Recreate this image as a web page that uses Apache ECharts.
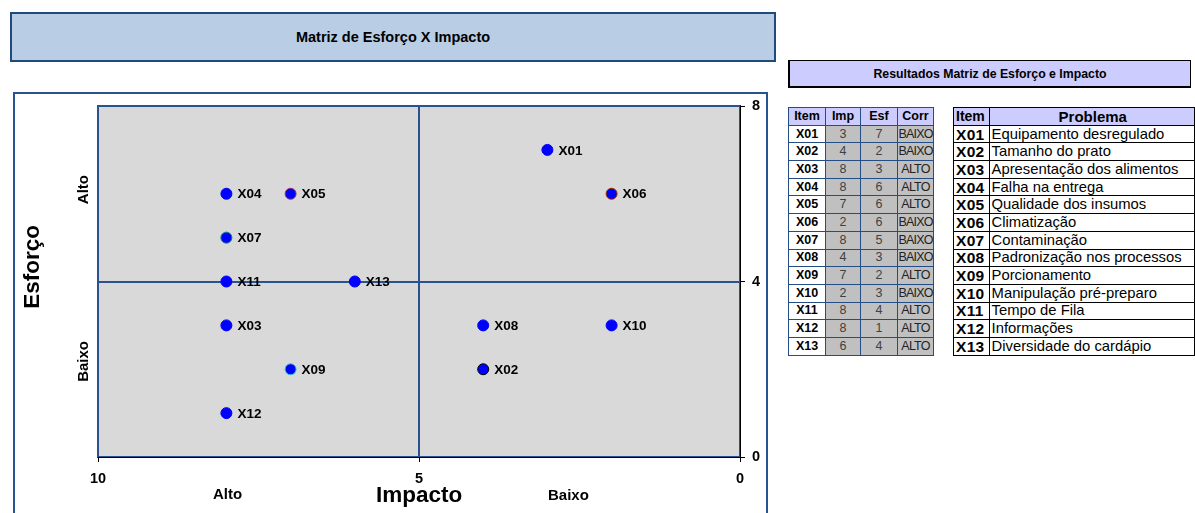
<!DOCTYPE html>
<html>
<head>
<meta charset="utf-8">
<script src="https://cdn.jsdelivr.net/npm/echarts@6/dist/echarts.min.js"></script>
<style>
  html, body { margin: 0; padding: 0; background: #fff; }
  body { width: 1195px; height: 513px; position: relative; overflow: hidden; font-family: "Liberation Sans", Arial, sans-serif; }
  .box { position: absolute; box-sizing: border-box; }
  #titleBox { left: 10px; top: 12px; width: 766px; height: 50px; background: #B9CDE5; border: 2px solid #1F4A7E;
    display: flex; align-items: center; justify-content: center; font-weight: bold; font-size: 14.5px; color: #000; }
  #frame { left: 13px; top: 92px; width: 755px; height: 440px; border: 2px solid #2A5190; }
  #chart { position: absolute; left: 0; top: 0; width: 1195px; height: 513px; }
  #resHead { left: 788px; top: 60px; width: 403px; height: 28px; background: #CCCCFF; border: 1px solid #000;
    border-left-width: 2px; border-bottom-width: 2px;
    display: flex; align-items: center; justify-content: center; font-weight: bold; font-size: 12.3px; }
  table { position: absolute; border-collapse: collapse; table-layout: fixed; }
  table td { padding: 0; height: 16.7px; line-height: 15px; white-space: nowrap; overflow: hidden; }
  #t1 { left: 788px; top: 107px; }
  #t1 td { border: 1px solid #244D85; text-align: center; font-size: 12.5px; color: #404040; background: #C0C0C0; }
  #t1 tr.h td { background: #CCCCFF; font-weight: bold; font-size: 12.5px; color: #000; }
  #t1 td.it { background: #fff; font-weight: bold; font-size: 12.5px; color: #000; }
  #t1 td.corr { font-size: 12.5px; letter-spacing: -0.8px; color: #222; }
  #t2 { left: 953px; top: 107px; }
  #t2 td { border: 1px solid #000; font-size: 14.8px; color: #000; background: #fff; text-align: left; padding-left: 2px; }
  #t2 tr.h td { background: #CCCCFF; font-weight: bold; font-size: 14px; }
  #t2 tr.h td.p { text-align: center; font-size: 15px; }
  #t2 td.it { font-weight: bold; font-size: 15.5px; padding-left: 2px; letter-spacing: 0.3px; }
</style>
</head>
<body>
<div id="titleBox" class="box">Matriz de Esforço X Impacto</div>
<div id="frame" class="box"></div>
<div id="resHead" class="box">Resultados Matriz de Esforço e Impacto</div>
<table id="t1"></table>
<table id="t2"></table>
<div id="chart"></div>
<script>
// Itens avaliados
const items = ['X01','X02','X03','X04','X05','X06','X07','X08','X09','X10','X11','X12','X13'];
// Impacto (eixo X, invertido de 10 a 0)
const impacto = [3, 4, 8, 8, 7, 2, 8, 4, 7, 2, 8, 8, 6];
// Esforço (eixo Y)
const esforco = [7, 2, 3, 6, 6, 6, 5, 3, 2, 3, 4, 1, 4];
// Classificação
const corr = ['BAIXO','BAIXO','ALTO','ALTO','ALTO','BAIXO','BAIXO','BAIXO','ALTO','BAIXO','ALTO','ALTO','ALTO'];
// Descrição dos problemas
const problemas = ['Equipamento desregulado','Tamanho do prato','Apresentação dos alimentos','Falha na entrega',
  'Qualidade dos insumos','Climatização','Contaminação','Padronização nos processos','Porcionamento',
  'Manipulação pré-preparo','Tempo de Fila','Informações','Diversidade do cardápio'];
// Contorno de cada marcador
const contornos = ['#0000FF','#000000','#0000FF','#0000FF','#993366','#993300','#008080','#0000FF','#33CCCC','#0000FF','#0000FF','#0000FF','#0000FF'];
// Marcas dos eixos
const xTicks = [10, 5, 0];
const yTicks = [0, 4, 8];

// Tabela de resultados
const t1 = document.getElementById('t1');
const w1 = [37, 35, 37, 36];
let h1 = '<colgroup>' + w1.map(w => `<col style="width:${w}px">`).join('') + '</colgroup>';
h1 += '<tr class="h"><td>Item</td><td>Imp</td><td>Esf</td><td>Corr</td></tr>';
items.forEach((it, i) => {
  h1 += `<tr><td class="it">${it}</td><td>${impacto[i]}</td><td>${esforco[i]}</td><td class="corr">${corr[i]}</td></tr>`;
});
t1.innerHTML = h1;

// Tabela de problemas
const t2 = document.getElementById('t2');
let h2 = '<colgroup><col style="width:37px"><col style="width:210px"></colgroup>';
h2 += '<tr class="h"><td>Item</td><td class="p">Problema</td></tr>';
items.forEach((it, i) => {
  h2 += `<tr><td class="it">${it}</td><td>${problemas[i]}</td></tr>`;
});
t2.innerHTML = h2;

const chart = echarts.init(document.getElementById('chart'), null, { renderer: 'canvas' });
const FONT = '"Liberation Sans", Arial, sans-serif';
const AXIS_BLUE = '#2A5190';

chart.setOption({
  backgroundColor: 'transparent',
  animation: false,
  grid: {
    left: 98, top: 106, width: 642, height: 351,
    containLabel: false, outerBoundsMode: 'none',
    show: true, backgroundColor: '#D9D9D9', borderColor: AXIS_BLUE, borderWidth: 2
  },
  xAxis: {
    type: 'value', min: 0, max: 10, interval: 5, inverse: true,
    axisLine: { show: true, lineStyle: { color: '#000', width: 1 } },
    axisTick: { show: true, length: 5, lineStyle: { color: '#000' } },
    axisLabel: { fontFamily: FONT, fontWeight: 'bold', fontSize: 14.5, color: '#000', margin: 14,
      formatter: v => xTicks.includes(v) ? String(v) : '' },
    splitLine: { show: true, lineStyle: { color: AXIS_BLUE, width: 2 } }
  },
  yAxis: {
    type: 'value', min: 0, max: 8, interval: 4, position: 'right',
    axisLine: { show: true, onZero: false, lineStyle: { color: '#000', width: 1 } },
    axisTick: { show: true, length: 5, lineStyle: { color: '#000' } },
    axisLabel: { fontFamily: FONT, fontWeight: 'bold', fontSize: 14.5, color: '#000', margin: 12,
      formatter: v => yTicks.includes(v) ? String(v) : '' },
    splitLine: { show: true, lineStyle: { color: AXIS_BLUE, width: 2 } }
  },
  graphic: [
    { type: 'text', left: 376, top: 484,
      style: { text: 'Impacto', fontFamily: FONT, fontWeight: 'bold', fontSize: 22.5, fill: '#000' } },
    { type: 'text', left: 21, top: 225, rotation: Math.PI / 2,
      style: { text: 'Esforço', fontFamily: FONT, fontWeight: 'bold', fontSize: 22.5, fill: '#000' } },
    { type: 'text', left: 76, top: 175, rotation: Math.PI / 2,
      style: { text: 'Alto', fontFamily: FONT, fontWeight: 'bold', fontSize: 15, fill: '#000' } },
    { type: 'text', left: 76, top: 341, rotation: Math.PI / 2,
      style: { text: 'Baixo', fontFamily: FONT, fontWeight: 'bold', fontSize: 15, fill: '#000' } },
    { type: 'text', left: 213, top: 487,
      style: { text: 'Alto', fontFamily: FONT, fontWeight: 'bold', fontSize: 15, fill: '#000' } },
    { type: 'text', left: 548, top: 488,
      style: { text: 'Baixo', fontFamily: FONT, fontWeight: 'bold', fontSize: 15, fill: '#000' } }
  ],
  series: [{
    type: 'scatter',
    symbol: 'circle',
    symbolSize: 11,
    data: items.map((it, i) => ({
      name: it,
      value: [impacto[i], esforco[i]],
      itemStyle: { color: '#0000FF', opacity: 1, borderColor: contornos[i], borderWidth: 1 }
    })),
    label: {
      show: true, position: 'right', distance: 5,
      formatter: p => p.name,
      fontFamily: FONT, fontWeight: 'bold', fontSize: 13.5, color: '#000', offset: [0, 1]
    }
  }]
});
</script>
</body>
</html>
